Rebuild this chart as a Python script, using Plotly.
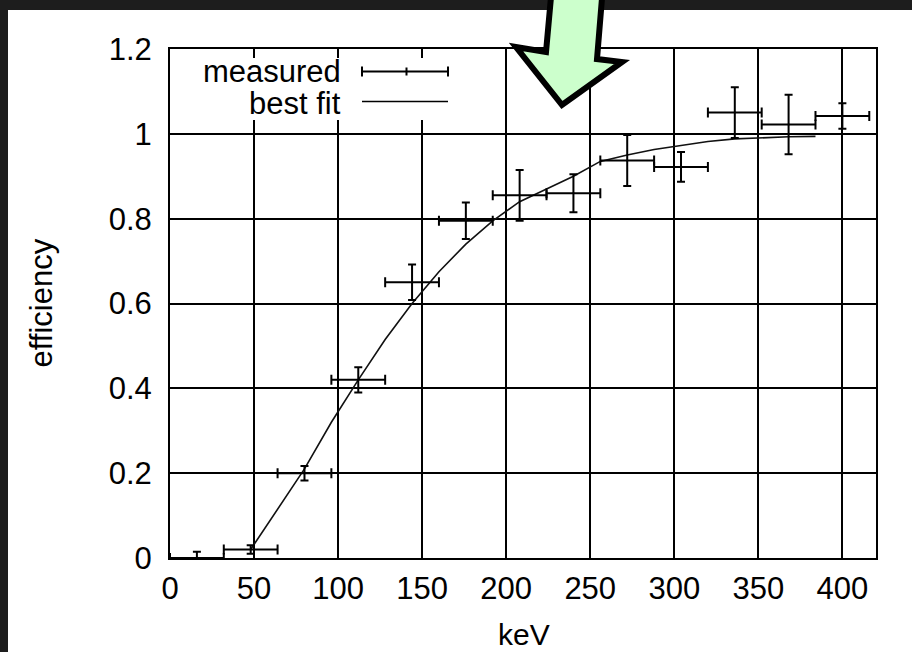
import plotly.graph_objects as go

# Measured detection efficiency per 32 keV energy bin
energy_keV = [16, 48, 80, 112, 144, 176, 208, 240, 272, 304, 336, 368, 400]
energy_halfwidth = [16, 16, 16, 16, 16, 16, 16, 16, 16, 16, 16, 16, 16]
efficiency = [0.0, 0.02, 0.2, 0.42, 0.65, 0.795, 0.855, 0.86, 0.937, 0.922, 1.05, 1.022, 1.042]
efficiency_err = [0.015, 0.01, 0.017, 0.03, 0.042, 0.043, 0.06, 0.045, 0.06, 0.035, 0.06, 0.07, 0.03]

# Best-fit efficiency curve
fit_keV = [48, 64, 80, 96, 112, 128, 144, 160, 176, 192, 208, 224, 240, 256,
           272, 288, 304, 320, 336, 352, 368, 384]
fit_eff = [0.02, 0.115, 0.21, 0.32, 0.42, 0.515, 0.6, 0.675, 0.74, 0.795, 0.84,
           0.87, 0.9, 0.935, 0.95, 0.963, 0.973, 0.982, 0.988, 0.991, 0.993, 0.994]

x_ticks = [0, 50, 100, 150, 200, 250, 300, 350, 400]
y_ticks = [0, 0.2, 0.4, 0.6, 0.8, 1, 1.2]
X_MAX, Y_MAX = 420, 1.2

W, H = 912, 652
L, R, T, B = 170, 876, 49, 558
FONT = "Liberation Sans, Arial, Helvetica, sans-serif"
FS = 31
KEY_RIGHT = 456   # right edge of the opaque key box, px
TICK_LEN = 9


def px(x):
    return (x - L) / (R - L)


def py(y):
    return (B - y) / (B - T)


fig = go.Figure()

fig.add_trace(go.Scatter(
    x=fit_keV, y=fit_eff, mode="lines",
    line=dict(color="#111111", width=1.6),
    showlegend=False, hoverinfo="skip",
))

fig.add_trace(go.Scatter(
    x=energy_keV, y=efficiency, mode="markers",
    marker=dict(color="black", size=2),
    error_x=dict(type="data", array=energy_halfwidth, symmetric=True,
                 color="black", thickness=2, width=5),
    error_y=dict(type="data", array=efficiency_err, symmetric=True,
                 color="black", thickness=2, width=4),
    showlegend=False,
))

axis_common = dict(
    showgrid=True, gridcolor="black", gridwidth=2,
    showline=True, linecolor="black", linewidth=2, mirror="ticks",
    ticks="inside", ticklen=TICK_LEN, tickwidth=2, tickcolor="black",
    zeroline=False, tickfont=dict(family=FONT, size=FS, color="black"),
)

fig.update_xaxes(range=[0, X_MAX], tickvals=x_ticks, ticklabelstandoff=2, **axis_common)
fig.update_yaxes(range=[0, Y_MAX], tickvals=y_ticks, ticklabelstandoff=10, **axis_common)

shapes = []
# dark surround strips
shapes.append(dict(type="rect", xref="paper", yref="paper",
                   x0=px(0), x1=px(W), y0=py(10), y1=py(0),
                   fillcolor="#1d1d1d", line_width=0, layer="below"))
shapes.append(dict(type="rect", xref="paper", yref="paper",
                   x0=px(0), x1=px(8), y0=py(H), y1=py(0),
                   fillcolor="#1d1d1d", line_width=0, layer="below"))
# opaque key box over the grid; the top strip is left open so the
# grid shows there as inward tick stubs
shapes.append(dict(type="rect", xref="paper", yref="paper",
                   x0=px(L + 1.5), x1=px(KEY_RIGHT), y0=py(120), y1=py(T + TICK_LEN),
                   fillcolor="white", line_width=0, layer="above"))
# key samples
ky1, ky2 = 71.5, 101.5
sx0, sx1, sxm = 362, 448, 406.5
shapes.append(dict(type="line", xref="paper", yref="paper",
                   x0=px(sx0), x1=px(sx1), y0=py(ky1), y1=py(ky1),
                   line=dict(color="black", width=2), layer="above"))
for xx, hh in [(sx0, 5), (sx1, 5), (sxm, 4)]:
    shapes.append(dict(type="line", xref="paper", yref="paper",
                       x0=px(xx), x1=px(xx), y0=py(ky1 - hh), y1=py(ky1 + hh),
                       line=dict(color="black", width=2), layer="above"))
shapes.append(dict(type="line", xref="paper", yref="paper",
                   x0=px(sx0), x1=px(sx1), y0=py(ky2), y1=py(ky2),
                   line=dict(color="black", width=1.6), layer="above"))

# green pointer arrow
arrow = [(552, -14), (546, 52), (516, 47), (562, 105), (622, 62), (597, 59), (603, -14)]
path = "M " + " L ".join(f"{px(a):.5f},{py(b):.5f}" for a, b in arrow) + " Z"
shapes.append(dict(type="path", xref="paper", yref="paper", path=path,
                   fillcolor="#ccffcc", line=dict(color="black", width=6),
                   layer="above"))

annotations = [
    dict(text="measured", x=px(343), y=py(ky1 - 0.5), xref="paper", yref="paper",
         xanchor="right", yanchor="middle", showarrow=False,
         font=dict(family=FONT, size=FS, color="black")),
    dict(text="best fit", x=px(343), y=py(ky2 + 1.5), xref="paper", yref="paper",
         xanchor="right", yanchor="middle", showarrow=False,
         font=dict(family=FONT, size=FS, color="black")),
    dict(text="keV", x=px(524), y=py(634), xref="paper", yref="paper",
         xanchor="center", yanchor="middle", showarrow=False,
         font=dict(family=FONT, size=30, color="black")),
    dict(text="efficiency", x=px(41), y=py(303.5), xref="paper", yref="paper",
         xanchor="center", yanchor="middle", showarrow=False, textangle=-90,
         font=dict(family=FONT, size=FS, color="black")),
]

fig.update_layout(
    width=W, height=H,
    margin=dict(l=L, r=W - R, t=T, b=H - B),
    paper_bgcolor="white", plot_bgcolor="white",
    shapes=shapes, annotations=annotations,
    showlegend=False,
)

fig.write_html("out.html")
